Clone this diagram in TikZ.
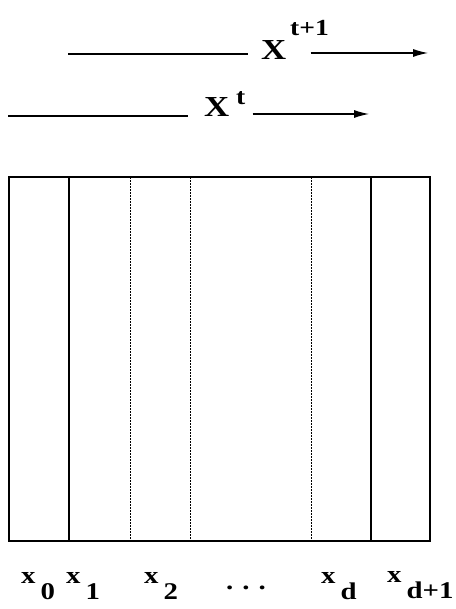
\documentclass[tikz,border=0pt]{standalone}
\usepackage{fontspec}
\setmainfont[FakeStretch=1.2]{Liberation Serif}
\usetikzlibrary{arrows.meta,positioning,calc}

\tikzset{
  bigX/.style={font=\fontsize{29}{31}\selectfont\bfseries, inner sep=0pt, anchor=base west},
  supX/.style={font=\fontsize{23}{25}\selectfont\bfseries, inner sep=0pt, anchor=base west},
  lbl/.style={font=\fontsize{24}{26}\selectfont\bfseries, inner sep=0pt, anchor=base west},
  rule/.style={line width=1.1pt},
  flow/.style={line width=1.1pt, -{Latex[length=15pt,width=8pt]}},
  cellwall/.style={line width=1.2pt},
  cellsep/.style={line width=0.9pt, dash pattern=on 1.6pt off 1.4pt},
}
% index label: x with a lowered subscript
\newcommand{\xidx}[1]{x\hspace{5pt}\raisebox{-16pt}{#1}}

\begin{document}
\begin{tikzpicture}[x=1pt,y=-1pt]
  \useasboundingbox (0,0) rectangle (455,609);
  % X^{t+1}
  \node[bigX] (Xnext) at (261,60) {X};
  \node[supX] (Xnextexp) at (290,36) {t+1};
  \coordinate (nextstart) at (68,54);
  \coordinate (nextend) at (428,53);
  \draw[rule] (nextstart) -- ($(Xnext.west |- nextstart)+(-13,0)$);
  \draw[flow] ($(Xnext.east |- nextend)+(24,0)$) -- (nextend);
  % X^t
  \node[bigX] (Xnow) at (204,117) {X};
  \node[supX] (Xnowexp) at (236,105) {t};
  \coordinate (nowstart) at (8,116);
  \coordinate (nowend) at (369,114);
  \draw[rule] (nowstart) -- ($(Xnow.west |- nowstart)+(-16,0)$);
  \draw[flow] ($(Xnow.east |- nowend)+(23,0)$) -- (nowend);
  % cells
  \draw[cellwall] (9,177) rectangle (430,541);
  \foreach \cx in {69,371}
    \draw[cellwall] (\cx,177) -- (\cx,541);
  \foreach \cx in {130,190,311}
    \draw[cellsep] (\cx,177) -- (\cx,541);
  % labels
  \node[lbl] (lx0) at (21,583) {\xidx{0}};
  \node[lbl] (lx1) at (66,583) {\xidx{1}};
  \node[lbl] (lx2) at (144,583) {\xidx{2}};
  \node[lbl] (ldots) at (226,589) {.\hspace{9pt}.\hspace{9pt}.};
  \node[lbl] (lxd) at (321,583) {\xidx{d}};
  \node[lbl] (lxd1) at (387,582) {\xidx{d+1}};
\end{tikzpicture}
\end{document}
